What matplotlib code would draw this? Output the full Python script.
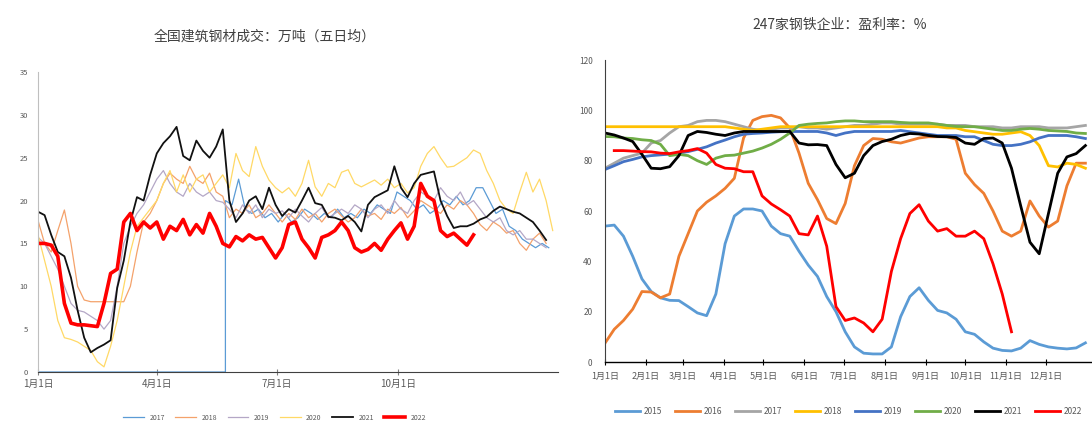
import numpy as np
import matplotlib.pyplot as plt

plt.rcParams['font.family'] = ['Noto Sans CJK SC', 'DejaVu Sans']

# ---- left: 全国建筑钢材成交 (万吨, 五日均), one value every 5 days from 1月1日
step_l = 5
jump_2017 = 142          # 2017 is 0 until this day
v2017 = [20, 19.5, 22.5, 19, 18.5, 19, 18, 18.5, 17.5, 18.5, 17.5, 18, 19, 18.5,
         17.8, 18.5, 18, 19, 18, 18.5, 18, 19, 18.5, 19.5, 19, 18.5, 21, 20.5, 20,
         19, 19.5, 18.5, 19, 20, 19.5, 20.5, 19.5, 20, 21.5, 21.5, 20, 18.5, 19, 17,
         16.5, 15.5, 15, 14.5, 15, 14.5]
v2018 = [17.7, 15, 14, 16.5, 18.9, 15, 10, 8.4, 8.2, 8.2, 8.2, 8.2, 8.2, 8.2, 10,
         14, 17.5, 18.5, 20, 22, 23.2, 22.5, 22, 24, 22.5, 22, 23.2, 21, 20.5, 18,
         19, 18.5, 19.5, 18, 18.5, 19.5, 18.5, 17.5, 18.5, 17.8, 19, 18, 18.5, 17.5,
         18.5, 19, 18.2, 17.5, 18, 19, 18.2, 18.5, 17.8, 19, 18.5, 19.2, 18, 18.8,
         20, 19.5, 19, 18.5, 19.5, 19, 20, 19.5, 18.5, 17.2, 16.5, 17.5, 17, 16.2,
         16.5, 15, 14.2, 15.5, 16.2, 15]
v2019 = [15.7, 15, 13.5, 12, 10, 8, 7.2, 7, 6.5, 6, 5, 6, 10, 15, 17, 18.5, 19.5,
         21, 22.5, 23.5, 22, 21, 20.5, 22, 21, 20.5, 21, 20, 19.8, 19, 18, 19.5,
         18.5, 19.5, 18, 19, 18.5, 18.8, 18, 19, 18.2, 17.5, 18.5, 19.2, 18, 18.5,
         19, 18.5, 19.5, 19, 18, 19, 19.5, 18.5, 20, 19, 18.5, 20, 21, 20.5, 20,
         21.5, 20.5, 20, 21, 19.5, 20, 19, 18, 17.5, 18, 16.5, 16, 16.5, 15.5, 15.5,
         15, 14.5]
v2020 = [16, 13, 10, 6, 4, 3.8, 3.5, 3, 2.5, 1.2, 0.6, 3, 6, 10, 14, 17, 18, 19,
         20, 22, 23.5, 21, 23, 21, 22.5, 23, 21, 22, 23, 21.5, 25.5, 23.5, 22.8,
         26.3, 24, 22.4, 21.5, 20.9, 21.5, 20.5, 22, 24.7, 21.6, 20.5, 22, 21.5,
         23.3, 23.6, 22, 21.6, 22, 22.4, 21.8, 22.5, 21.5, 22, 20.9, 21.5, 24, 25.5,
         26.3, 25, 23.9, 24, 24.5, 25, 25.9, 25.5, 23.5, 22, 20, 19, 18.5, 21, 23.3,
         21, 22.5, 20, 16.5]
v2021 = [18.7, 18.3, 16, 14, 13.5, 11, 7.2, 4, 2.3, 2.8, 3.2, 3.7, 9.8, 13, 17.5,
         20.4, 20, 23, 25.5, 26.7, 27.5, 28.6, 25.2, 24.7, 27, 25.8, 25, 26.3, 28.3,
         20, 17.5, 18.5, 20, 20.5, 19, 21.5, 19.5, 18.2, 19, 18.6, 20, 21.5, 19.7,
         19.5, 18.1, 18, 17.7, 18.2, 17.5, 16.4, 19.5, 20.4, 20.8, 21.2, 24, 21.5,
         20.4, 22, 23, 23.2, 23.4, 20, 18.2, 16.8, 17, 17, 17.3, 17.8, 18.1, 18.8,
         19.3, 19, 18.7, 18.5, 18, 17.5, 16.5, 15.4]
v2022 = [15, 15, 14.8, 13.5, 8, 5.7, 5.5, 5.5, 5.4, 5.3, 8, 11.5, 12, 17.5, 18.5,
         16.5, 17.5, 16.8, 17.5, 15.5, 17, 16.5, 17.8, 16, 17.2, 16.2, 18.5, 17, 15,
         14.6, 15.8, 15.3, 16, 15.5, 15.7, 14.5, 13.3, 14.5, 17.2, 17.5, 15.5, 14.5,
         13.3, 15.7, 16, 16.5, 17.5, 16.5, 14.5, 14, 14.3, 15, 14.2, 15.5, 16.5,
         17.4, 15.5, 17, 22, 20.5, 20, 16.5, 15.8, 16.2, 15.5, 14.8, 16]
left_ticks = [0, 90, 181, 273]
left_labels = ['1月1日', '4月1日', '7月1日', '10月1日']

# ---- right: 247家钢铁企业盈利率 (%), weekly from 1月1日
step_r = 7
p2015 = [54, 54.4, 50, 42, 33, 28, 25.5, 24.5, 24.4, 22, 19.5, 18.4, 27, 47, 58,
         60.8, 60.8, 60, 54, 51, 50, 44, 38.5, 34, 26, 20, 12, 6, 3.5, 3.2, 3.2, 6,
         18, 26, 29.5, 24.5, 20.5, 19.5, 17, 12, 11, 8, 5.5, 4.6, 4.4, 5.5, 8.5, 7,
         6, 5.5, 5.2, 5.6, 7.6]
p2016 = [7.5, 13, 16.5, 21, 28, 27.8, 25.5, 27, 42, 51, 60, 63.5, 66, 69, 73, 89,
         96, 97.5, 98, 97, 93, 83, 71, 64.5, 57, 55, 63, 78, 86, 88.8, 88.5, 87.5,
         87, 88, 89, 89.5, 89.5, 89.5, 88.5, 75, 70.5, 67, 60, 52, 50, 52, 64, 58,
         53.6, 56, 70, 79, 79]
p2017 = [77, 79, 81, 82, 83, 87, 88, 91, 93.5, 94, 95.5, 96, 96, 95.5, 94.5, 93.5,
         92.5, 92, 92.5, 93, 93, 93.5, 93, 93, 92.5, 93, 93.5, 94, 94, 94.5, 95, 95,
         94.5, 94.5, 94.5, 94.5, 94.5, 94, 94, 94, 93.5, 93.5, 93.5, 93, 93, 93.5,
         93.5, 93.5, 93, 93, 93, 93.5, 94]
p2018 = [93.5, 93.5, 93.5, 93.5, 93.5, 93.5, 93.5, 93.5, 93.5, 93.5, 93.5, 93.5,
         93.5, 93.5, 93, 92.5, 92, 92.5, 93, 93.5, 93.5, 93.5, 93.5, 93.5, 93.5,
         93.5, 93.5, 93.5, 93.5, 93.5, 93.5, 93.5, 93.5, 93.5, 93.5, 93.5, 93.5,
         93, 93, 92, 91.5, 91, 90.5, 90.5, 91, 91.5, 90, 86, 78, 77.5, 79, 78.5, 77]
p2019 = [76.5, 78, 79.6, 80.5, 81.5, 82, 82.3, 82.6, 83, 83.6, 84.5, 85.5, 87, 88.2,
         89.5, 90.5, 90.8, 91, 91.3, 91.5, 91.6, 91.6, 91.6, 91.6, 91, 90, 91, 91.6,
         91.6, 91.6, 91.6, 91.6, 92, 91.5, 91, 90.5, 90, 90, 90, 89.5, 89.5, 88,
         86.5, 86, 86, 86.5, 87.5, 89, 90, 90, 90, 89.5, 88.8]
p2020 = [89.6, 89.5, 89, 88.8, 88.3, 88, 86.5, 82, 82.5, 82, 80, 78.5, 81, 82, 82.2,
         83, 83.8, 85, 86.5, 88.5, 91, 94, 94.5, 94.8, 95, 95.5, 95.8, 95.8, 95.5,
         95.5, 95.5, 95.5, 95.2, 95, 95, 95, 94.5, 94, 93.6, 93.5, 93.5, 93, 92.5,
         92, 92, 92.5, 92.8, 92.5, 92, 91.8, 91.6, 91, 90.8]
p2021 = [91, 90.2, 89, 87.6, 82.5, 77, 76.8, 77.6, 82, 90, 91.6, 91.2, 90.5, 90, 91,
         91.6, 91.6, 91.6, 91.6, 91.6, 91.6, 87, 86.3, 86.4, 86, 78.5, 73.2, 75, 82,
         86, 87.6, 88.5, 90, 90.8, 90.6, 90, 89.6, 89.5, 89.2, 87, 86.5, 88.8, 89,
         87, 77, 62, 47.6, 43, 59, 75, 81.5, 82.8, 86]
start_2022 = 7
p2022 = [84, 84, 83.8, 83.6, 83.5, 83, 82.8, 83.5, 84, 84.8, 83, 78.5, 77, 76.8,
         75.6, 75.6, 66, 62.8, 60.5, 58, 51, 50.5, 58, 46, 22, 16.5, 17.5, 15.5, 12,
         17, 36, 49, 59, 62.5, 56, 52, 53, 50, 50, 52, 49, 39, 27, 12]
right_ticks = [0, 31, 59, 90, 120, 151, 181, 212, 243, 273, 304, 334]
right_labels = ['%d月1日' % m for m in range(1, 13)]

grey = '#595959'
fig = plt.figure(figsize=(10.92, 4.23), dpi=100)

# ---------------- left chart
ax = fig.add_axes([38/1092, 1-372/423, 520/1092, 300/423])
d17 = [0, jump_2017] + list(jump_2017 + step_l*np.arange(len(v2017)))
ax.plot(d17, [0, 0] + v2017, color='#5B9BD5', lw=0.9, label='2017')
left = [(v2018, '#F4A26B', 0.9, '2018'), (v2019, '#B4A7C6', 0.9, '2019'),
        (v2020, '#FFD966', 0.9, '2020'), (v2021, '#111111', 1.3, '2021'),
        (v2022, '#FF0000', 2.6, '2022')]
for vals, c, lw, lab in left:
    ax.plot(step_l*np.arange(len(vals)), vals, color=c, lw=lw, label=lab)
ax.set_xlim(0, 394)
ax.set_ylim(0, 35)
ax.set_yticks(range(0, 36, 5))
ax.set_xticks(left_ticks)
ax.set_xticklabels(left_labels)
for s in ['top', 'right']:
    ax.spines[s].set_visible(False)
ax.spines['left'].set_color('#BFBFBF')
ax.spines['left'].set_linewidth(0.8)
ax.spines['bottom'].set_color('#404040')
ax.spines['bottom'].set_linewidth(0.8)
ax.tick_params(axis='y', length=0, pad=7, labelsize=5.5, labelcolor=grey)
ax.tick_params(axis='x', direction='inout', length=4, color='#808080',
               pad=3, labelsize=7, labelcolor=grey)
fig.text(265/1092, 1-37/423, '全国建筑钢材成交：万吨（五日均）', ha='center',
         va='center', fontsize=10, color='#404040')
ax.legend(loc='center', bbox_to_anchor=(0.455, -0.152), ncol=6, frameon=False,
          fontsize=5, handlelength=3, columnspacing=1.5, labelcolor=grey,
          borderpad=0.1)

# ---------------- right chart
ax2 = fig.add_axes([605/1092, 1-362/423, 487/1092, 302/423])
right = [(p2015, '#5B9BD5', '2015'), (p2016, '#ED7D31', '2016'),
         (p2017, '#A5A5A5', '2017'), (p2018, '#FFC000', '2018'),
         (p2019, '#4472C4', '2019'), (p2020, '#70AD47', '2020'),
         (p2021, '#000000', '2021')]
for vals, c, lab in right:
    ax2.plot(step_r*np.arange(len(vals)), vals, color=c, lw=2.0, label=lab)
ax2.plot(start_2022 + step_r*np.arange(len(p2022)), p2022, color='#FF0000',
         lw=2.0, label='2022')
ax2.set_xlim(0, 369)
ax2.set_ylim(0, 120)
ax2.set_yticks(range(0, 121, 20))
ax2.set_xticks(right_ticks)
ax2.set_xticklabels(right_labels)
for s in ['top', 'right']:
    ax2.spines[s].set_visible(False)
ax2.spines['left'].set_color('#404040')
ax2.spines['bottom'].set_color('#000000')
ax2.spines['bottom'].set_linewidth(1.0)
ax2.tick_params(axis='y', length=0, pad=9, labelsize=6, labelcolor=grey)
ax2.tick_params(axis='x', direction='inout', length=5, pad=5, labelsize=6.5,
                labelcolor=grey)
fig.text(840/1092, 1-25/423, '247家钢铁企业：盈利率：%', ha='center',
         va='center', fontsize=10, color='#404040')
ax2.legend(loc='center', bbox_to_anchor=(0.5, -0.165), ncol=8, frameon=False,
           fontsize=6, handlelength=3.0, columnspacing=1.6, handletextpad=0.4,
           labelcolor=grey, borderpad=0.1)

plt.savefig('out.png', dpi=100)
plt.close('all')
